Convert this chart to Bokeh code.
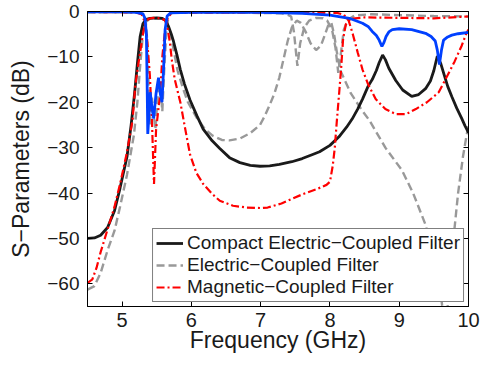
from bokeh.plotting import figure
from bokeh.models import (FixedTicker, LinearAxis, Legend, LegendItem, Range1d,
                          CustomLabelingPolicy)
from bokeh.embed import file_html
from bokeh.resources import INLINE

# ---------------- data ----------------
# Compact electric-coupled filter, S21 (black solid)
ce_s21_f = [4.5, 4.6, 4.69, 4.79, 4.89, 4.97, 5.07, 5.13, 5.18, 5.22, 5.26, 5.3, 5.34, 5.4,
            5.5, 5.58, 5.63, 5.67, 5.71, 5.74, 5.79, 5.84, 5.9, 5.98, 6.08, 6.17, 6.3, 6.41,
            6.55, 6.7, 6.85, 6.99, 7.13, 7.27, 7.45, 7.6, 7.75, 7.85, 8.0, 8.13, 8.24, 8.32,
            8.4, 8.47, 8.55, 8.61, 8.67, 8.71, 8.76, 8.8, 8.85, 8.95, 9.05, 9.18, 9.28, 9.38,
            9.45, 9.5, 9.55, 9.6, 9.65, 9.7, 9.76, 9.83, 9.9, 9.95, 10.0]
ce_s21_db = [-50.0, -49.9, -49.3, -47.6, -43.9, -38.9, -32.0, -25.0, -18.0, -11.5, -5.5, -2.7,
             -1.8, -1.5, -1.4, -1.5, -2.0, -3.3, -5.0, -6.5, -9.5, -12.8, -16.0, -19.5, -23.0,
             -25.9, -28.5, -30.2, -32.2, -33.3, -33.9, -34.1, -34.0, -33.7, -33.1, -32.4, -31.5,
             -30.9, -29.5, -27.6, -25.5, -23.7, -21.5, -19.3, -16.5, -15.0, -13.0, -11.3, -9.6,
             -10.6, -12.5, -15.2, -17.3, -18.7, -18.3, -17.0, -15.3, -13.0, -9.8, -11.5, -14.0,
             -16.5, -18.8, -21.3, -23.5, -25.2, -26.7]

# Compact electric-coupled filter, S11 (blue solid)
ce_s11_f = [4.5, 5.0, 5.2, 5.27, 5.3, 5.33, 5.35, 5.36, 5.37, 5.39, 5.405, 5.43, 5.455, 5.49,
            5.525, 5.55, 5.575, 5.6, 5.62, 5.65, 5.7, 6.0, 7.0, 7.6, 8.0, 8.28, 8.47, 8.55,
            8.61, 8.67, 8.71, 8.75, 8.78, 8.81, 8.85, 8.9, 9.0, 9.18, 9.38, 9.46, 9.52, 9.55,
            9.58, 9.61, 9.64, 9.7, 9.76, 9.85, 10.0]
ce_s11_db = [-0.1, -0.1, -0.2, -0.4, -0.5, -1.5, -5.0, -15.0, -27.0, -22.0, -17.8, -21.0,
             -23.6, -18.0, -14.6, -18.0, -20.0, -12.0, -4.0, -1.0, -0.3, -0.2, -0.2, -0.4,
             -0.8, -1.5, -2.6, -3.3, -4.4, -5.3, -6.3, -7.7, -6.8, -5.5, -4.5, -4.0, -3.8,
             -4.0, -4.8, -5.5, -6.5, -8.5, -11.7, -8.5, -6.3, -5.6, -5.2, -4.9, -4.6]

# Electric-coupled filter, S21 (gray dashed)
ec_s21_f = [4.5, 4.6, 4.69, 4.79, 4.89, 4.97, 5.07, 5.17, 5.22, 5.26, 5.3, 5.34, 5.4, 5.5,
            5.6, 5.65, 5.7, 5.75, 5.8, 5.88, 5.95, 6.08, 6.2, 6.31, 6.44, 6.55, 6.7, 6.85,
            6.99, 7.06, 7.13, 7.2, 7.27, 7.33, 7.39, 7.45, 7.52, 7.58, 7.65, 7.72, 7.8, 7.87,
            7.93, 7.98, 8.02, 8.06, 8.1, 8.15, 8.3, 8.45, 8.57, 8.8, 9.04, 9.2, 9.38, 9.5,
            9.58, 9.63, 9.68, 9.72, 9.79, 9.85, 9.92, 9.97, 10.0]
ec_s21_db = [-61.3, -60.5, -57.6, -52.6, -48.3, -43.0, -36.0, -27.2, -20.0, -12.0, -5.0,
             -2.3, -1.6, -1.5, -1.6, -2.5, -5.0, -9.0, -13.0, -17.0, -20.0, -23.5, -26.0,
             -27.4, -28.3, -28.4, -28.0, -26.8, -25.0, -23.0, -20.6, -18.0, -14.5, -10.5,
             -6.5, -3.5, -2.0, -2.5, -4.5, -7.0, -8.5, -7.5, -5.0, -2.8, -2.5, -5.0, -9.0,
             -13.0, -18.0, -21.5, -24.0, -30.0, -35.0, -40.0, -47.0, -54.0, -60.0, -66.0,
             -70.0, -60.0, -49.0, -40.0, -32.0, -27.5, -25.0]

# Electric-coupled filter, S11 (gray dashed)
ec_s11_f = [4.5, 5.0, 5.25, 5.3, 5.34, 5.36, 5.38, 5.4, 5.43, 5.48, 5.52, 5.55, 5.58, 5.61,
            5.64, 5.67, 5.72, 6.5, 7.3, 7.4, 7.44, 7.48, 7.53, 7.57, 7.63, 7.7, 7.8, 7.9,
            7.96, 8.03, 8.08, 8.12, 8.16, 8.2, 8.26, 8.35, 8.6, 9.0, 9.5, 10.0]
ec_s11_db = [-0.2, -0.2, -0.3, -0.5, -2.0, -6.0, -15.0, -25.0, -19.0, -26.0, -17.0, -16.0,
             -22.0, -12.0, -4.0, -1.0, -0.3, -0.2, -0.4, -0.8, -1.1, -4.5, -12.0, -7.0,
             -3.5, -2.0, -1.4, -1.5, -2.0, -4.0, -8.0, -13.5, -9.0, -4.0, -1.8, -0.9, -0.6,
             -0.8, -1.0, -1.1]

# Magnetic-coupled filter, S21 (red dash-dot)
mc_s21_f = [4.5, 4.57, 4.63, 4.69, 4.79, 4.89, 4.97, 5.07, 5.15, 5.19, 5.23, 5.26, 5.3,
            5.33, 5.38, 5.45, 5.55, 5.62, 5.66, 5.69, 5.72, 5.76, 5.84, 5.9, 5.98, 6.07,
            6.17, 6.3, 6.41, 6.6, 6.8, 7.0, 7.1, 7.3, 7.6, 7.8, 7.95, 8.0, 8.04, 8.07, 8.1,
            8.13, 8.16, 8.19, 8.23, 8.3, 8.5, 9.0, 9.5, 10.0]
mc_s21_db = [-59.8, -59.0, -56.5, -53.0, -48.0, -43.0, -38.0, -31.0, -24.0, -16.3, -12.0,
             -9.0, -5.0, -2.6, -1.6, -1.4, -1.5, -1.9, -4.0, -7.0, -11.0, -15.0, -20.0,
             -25.0, -31.5, -35.5, -38.0, -40.2, -41.7, -42.8, -43.2, -43.3, -43.2, -42.3,
             -40.3, -39.2, -38.2, -37.5, -34.0, -30.0, -24.0, -18.5, -12.8, -6.0, -2.8,
             -1.6, -1.3, -1.4, -1.5, -1.1]

# Magnetic-coupled filter, S11 (red dash-dot)
mc_s11_f = [4.5, 5.2, 5.28, 5.32, 5.36, 5.4, 5.43, 5.46, 5.49, 5.52, 5.55, 5.58, 5.62, 5.66,
            5.72, 7.0, 8.1, 8.2, 8.27, 8.33, 8.4, 8.47, 8.55, 8.66, 8.8, 8.95, 9.1, 9.24,
            9.4, 9.57, 9.7, 9.8, 9.9, 9.97, 10.0]
mc_s11_db = [-0.1, -0.2, -0.6, -2.0, -6.0, -14.0, -24.0, -38.0, -26.0, -22.0, -18.0, -10.0,
             -4.0, -1.2, -0.3, -0.2, -0.3, -0.7, -2.0, -5.0, -9.0, -12.8, -16.0, -19.3,
             -21.5, -22.6, -22.6, -21.5, -20.0, -17.8, -14.0, -11.0, -7.6, -4.8, -4.0]

x_ticks = [5, 6, 7, 8, 9, 10]
y_ticks = [-60, -50, -40, -30, -20, -10, 0]
legend_labels = ["Compact Electric\u2212Coupled Filter",
                 "Electric\u2212Coupled Filter",
                 "Magnetic\u2212Coupled Filter"]
x_label = "Frequency (GHz)"
y_label = "S\u2212Parameters (dB)"

# ---------------- figure ----------------
FONT = "Liberation Sans"
p = figure(width=490, height=366, output_backend="svg", toolbar_location=None,
           x_range=Range1d(4.5, 10), y_range=Range1d(-65, 0),
           min_border_left=87, min_border_right=20, min_border_top=11,
           min_border_bottom=60, x_axis_label=x_label, y_axis_label=y_label)
p.background_fill_color = "white"
p.border_fill_color = "white"
p.outline_line_color = "black"
p.outline_line_width = 1
p.xgrid.visible = False
p.ygrid.visible = False

for ax in (p.xaxis[0], p.yaxis[0]):
    ax.major_tick_in = 5
    ax.major_tick_out = 0
    ax.minor_tick_in = 0
    ax.minor_tick_out = 0
    ax.axis_line_color = "black"
    ax.major_tick_line_color = "black"
    ax.major_label_text_font = FONT
    ax.major_label_text_color = "#1a1a1a"
    ax.axis_label_text_font = FONT
    ax.axis_label_text_font_size = "23px"
    ax.axis_label_text_font_style = "normal"
    ax.axis_label_text_color = "#1a1a1a"
p.xaxis[0].major_label_text_font_size = "20px"
p.yaxis[0].major_label_text_font_size = "19px"
p.xaxis[0].ticker = FixedTicker(ticks=x_ticks)
p.yaxis[0].ticker = FixedTicker(ticks=y_ticks)
p.xaxis[0].major_label_standoff = 6
p.xaxis[0].axis_label_standoff = -3
p.yaxis[0].major_label_standoff = 8
p.yaxis[0].axis_label_standoff = 10

# top and right axes: ticks only (box style), no labels drawn
no_labels = CustomLabelingPolicy(code="return new indices.constructor(indices.size)")
no_labels2 = CustomLabelingPolicy(code="return new indices.constructor(indices.size)")
top_ax = LinearAxis(ticker=FixedTicker(ticks=x_ticks), major_tick_in=5, major_tick_out=0,
                    minor_tick_in=0, minor_tick_out=0, major_label_policy=no_labels,
                    major_label_standoff=0, axis_line_color="black")
right_ax = LinearAxis(ticker=FixedTicker(ticks=y_ticks), major_tick_in=5, major_tick_out=0,
                      minor_tick_in=0, minor_tick_out=0, major_label_policy=no_labels2,
                      major_label_standoff=0, axis_line_color="black")
p.add_layout(top_ax, "above")
p.add_layout(right_ax, "right")

GRAY = "#999999"
RED = "#ff0000"
BLUE = "#0040ff"
BLACK = "#1a1a1a"

g1 = p.line(ec_s21_f, ec_s21_db, line_color=GRAY, line_width=2.4, line_dash="8 4")
p.line(ec_s11_f, ec_s11_db, line_color=GRAY, line_width=2.4, line_dash="8 4")
b1 = p.line(ce_s21_f, ce_s21_db, line_color=BLACK, line_width=2.8)
r1 = p.line(mc_s21_f, mc_s21_db, line_color=RED, line_width=2.2, line_dash="8 3 2 3")
p.line(mc_s11_f, mc_s11_db, line_color=RED, line_width=2.2, line_dash="8 3 2 3")
p.line(ce_s11_f, ce_s11_db, line_color=BLUE, line_width=2.8)

legend = Legend(items=[LegendItem(label=legend_labels[0], renderers=[b1]),
                       LegendItem(label=legend_labels[1], renderers=[g1]),
                       LegendItem(label=legend_labels[2], renderers=[r1])],
                location="bottom_right", margin=4, padding=3, spacing=0,
                glyph_width=27, glyph_height=22, label_height=22, label_standoff=4,
                label_text_font=FONT, label_text_font_size="19px",
                label_text_color="#1a1a1a", border_line_color="black",
                border_line_width=1, background_fill_color="white",
                background_fill_alpha=1.0)
p.add_layout(legend)

open("out.html", "w").write(file_html(p, INLINE))
